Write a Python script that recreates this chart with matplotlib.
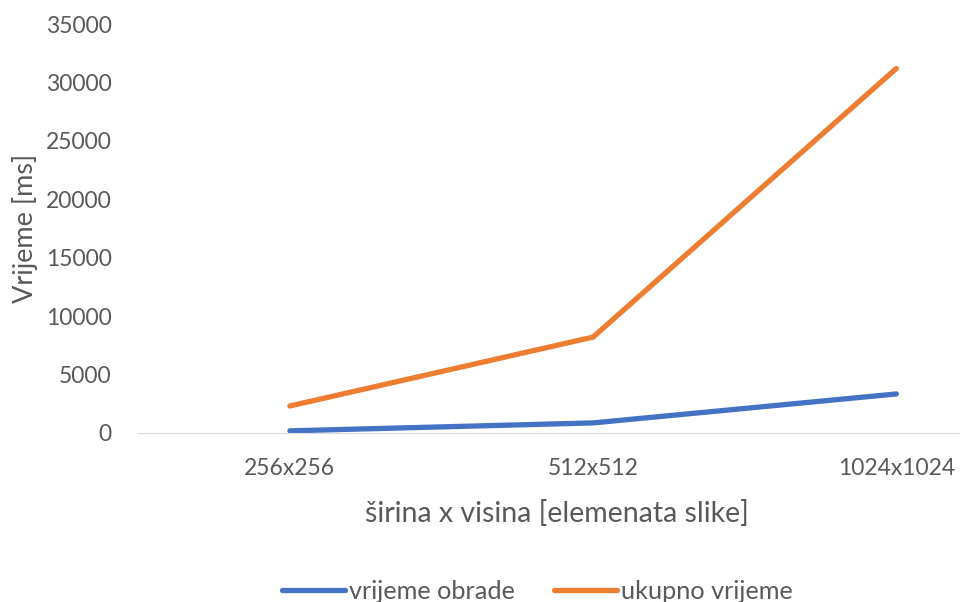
import matplotlib
matplotlib.use("Agg")
import matplotlib.pyplot as plt

categories = ["256x256", "512x512", "1024x1024"]
vrijeme_obrade = [170, 850, 3330]
ukupno_vrijeme = [2300, 8200, 31200]

plt.rcParams['font.family'] = ['Lato', 'DejaVu Sans']
GREY = "#595959"

fig = plt.figure(figsize=(9.6, 6.02), dpi=100)
ax = fig.add_axes([0.144, 0.281, 0.856, 0.679])

x = list(range(len(categories)))
ax.plot(x, vrijeme_obrade, color="#4472C4", lw=3.8, solid_capstyle="round", label="vrijeme obrade")
ax.plot(x, ukupno_vrijeme, color="#ED7D31", lw=3.8, solid_capstyle="round", label="ukupno vrijeme")

ax.set_xlim(-0.5, 2.21)
ax.set_ylim(0, 35000)
ax.set_yticks(range(0, 35001, 5000))
ax.set_xticks(x)
ax.set_xticklabels(categories)

for s in ["top", "right", "left"]:
    ax.spines[s].set_visible(False)
ax.spines["bottom"].set_color("#d9d9d9")
ax.tick_params(axis="both", length=0, labelsize=16.5, labelcolor=GREY)
ax.tick_params(axis="x", pad=18)
ax.tick_params(axis="y", pad=19)

ax.set_ylabel("Vrijeme [ms]", fontsize=19.5, color=GREY)
ax.yaxis.set_label_coords(-0.122, 0.5)
ax.set_xlabel("širina x visina [elemenata slike]", fontsize=20.5, color=GREY)
ax.xaxis.set_label_coords(0.51, -0.165)

leg = fig.legend(loc="lower center", bbox_to_anchor=(0.56, -0.04), ncol=2, frameon=False,
                 fontsize=18.2, handlelength=2.5, handletextpad=0.15, columnspacing=1.55)
for t in leg.get_texts():
    t.set_color(GREY)

fig.savefig("out.png", dpi=100)
